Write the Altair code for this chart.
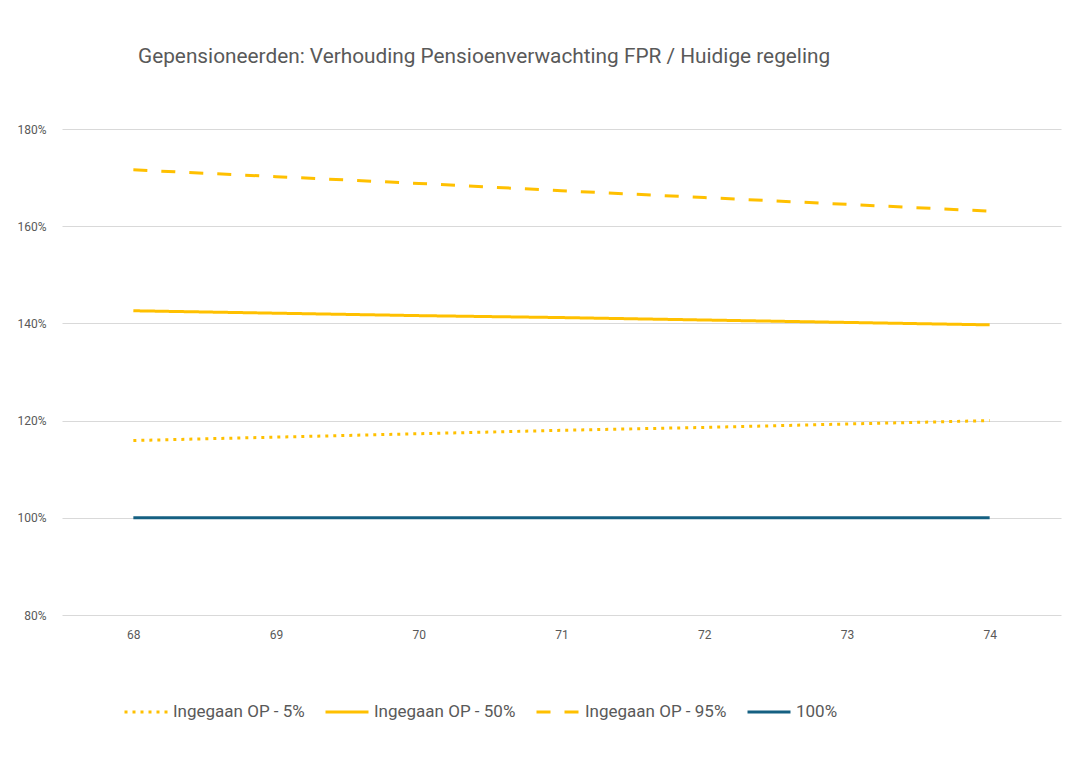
import altair as alt
import pandas as pd

ages = [68, 69, 70, 71, 72, 73, 74]
series_names = ["Ingegaan OP - 5%", "Ingegaan OP - 50%", "Ingegaan OP - 95%", "100%"]
p5 = [115.9, 116.6, 117.3, 118.0, 118.6, 119.3, 120.0]
p50 = [142.6, 142.1, 141.6, 141.2, 140.7, 140.2, 139.7]
p95 = [171.6, 170.2, 168.8, 167.3, 165.9, 164.5, 163.1]
hundred = [100, 100, 100, 100, 100, 100, 100]
y_ticks = [80, 100, 120, 140, 160, 180]

colors = ["#FFC000", "#FFC000", "#FFC000", "#156082"]
dashes = [[3, 5], [1, 0], [14, 14], [1, 0]]

rows = []
for name, vals in zip(series_names, [p5, p50, p95, hundred]):
    for a, v in zip(ages, vals):
        rows.append({"age": a, "series": name, "value": v})
df = pd.DataFrame(rows)

FONT = "Roboto"
GREY = "#595959"

legend = alt.Legend(
    title=None,
    orient="none",
    legendX=61,
    legendY=560,
    direction="horizontal",
    symbolType="stroke",
    symbolSize=1849,
    symbolStrokeWidth=3,
    labelFontSize=17,
    labelColor=GREY,
    labelFont=FONT,
    labelOffset=4,
    columnPadding=14,
)

chart = (
    alt.Chart(df)
    .mark_line(strokeWidth=3, strokeCap="butt")
    .encode(
        x=alt.X(
            "age:O",
            scale=alt.Scale(padding=0.5),
            axis=alt.Axis(
                title=None,
                labelAngle=0,
                grid=False,
                ticks=False,
                domain=False,
                labelFontSize=12,
                labelColor=GREY,
                labelFont=FONT,
                labelPadding=14,
            ),
        ),
        y=alt.Y(
            "value:Q",
            scale=alt.Scale(domain=[80, 180], nice=False, zero=False),
            axis=alt.Axis(
                title=None,
                values=y_ticks,
                labelExpr="datum.value + '%'",
                grid=True,
                gridColor="#D9D9D9",
                gridWidth=1,
                ticks=False,
                domain=False,
                labelFontSize=12,
                labelColor=GREY,
                labelFont=FONT,
                labelPadding=16,
            ),
        ),
        color=alt.Color(
            "series:N",
            scale=alt.Scale(domain=series_names, range=colors),
            sort=series_names,
            legend=legend,
        ),
        strokeDash=alt.StrokeDash(
            "series:N",
            scale=alt.Scale(domain=series_names, range=dashes),
            sort=series_names,
            legend=legend,
        ),
        order=alt.Order("age:O"),
    )
    .properties(
        width=999,
        height=486,
        padding={"left": 54, "top": 121, "right": 7, "bottom": 137},
        autosize=alt.AutoSizeParams(type="none"),
        title=alt.TitleParams(
            text="Gepensioneerden: Verhouding Pensioenverwachting FPR / Huidige regeling",
            anchor="start",
            dx=121,
            offset=39,
            baseline="alphabetic",
            fontSize=20.8,
            fontWeight="normal",
            color=GREY,
            font=FONT,
        ),
    )
    .configure_view(stroke=None)
)

chart.save("out.html", embed_options={"renderer": "svg", "actions": False})
